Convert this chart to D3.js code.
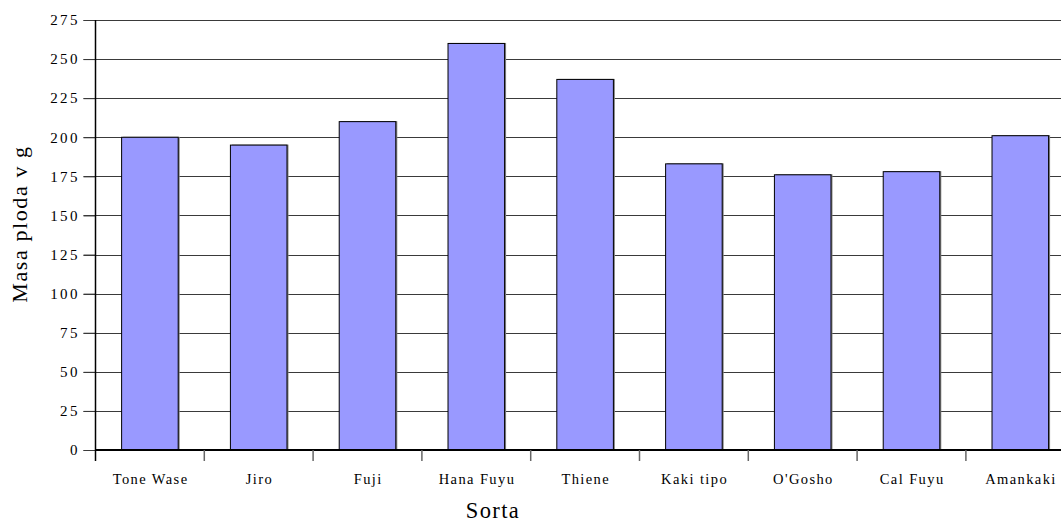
<!DOCTYPE html>
<html>
<head>
<meta charset="utf-8">
<script src="https://cdn.jsdelivr.net/npm/d3@7"></script>
<style>
  html, body { margin: 0; padding: 0; background: #fff; overflow: hidden; }
  svg { display: block; }
  text { font-family: "Liberation Serif", "Times New Roman", serif; fill: #000; }
</style>
</head>
<body>
<svg id="chart" width="1061" height="523"></svg>
<script>
// Fruit mass per persimmon variety
const categories = ["Tone Wase", "Jiro", "Fuji", "Hana Fuyu", "Thiene", "Kaki tipo", "O'Gosho", "Cal Fuyu", "Amankaki"];
const masses = [200, 195, 210, 260, 237, 183, 176, 178, 201];
const yTicks = [0, 25, 50, 75, 100, 125, 150, 175, 200, 225, 250, 275];
const xTitle = "Sorta";
const yTitle = "Masa ploda v g";

const svg = d3.select("#chart");
const plot = { left: 95.5, top: 20, bottom: 450, right: 95.5 + 9 * 108.8 };

const x = d3.scaleBand()
  .domain(categories)
  .range([plot.left, plot.right])
  .paddingInner(0.48)
  .paddingOuter(0.24);

const y = d3.scaleLinear()
  .domain([0, 275])
  .range([plot.bottom, plot.top]);

// horizontal gridlines
svg.append("g")
  .selectAll("line")
  .data(yTicks)
  .join("line")
  .attr("x1", plot.left - 12)
  .attr("x2", 1061)
  .attr("y1", d => Math.round(y(d)) + 0.5)
  .attr("y2", d => Math.round(y(d)) + 0.5)
  .attr("stroke", "#3a3a3a")
  .attr("stroke-width", 1.1);

// bars with a thin grey shadow on the right
const bars = svg.append("g");
bars.selectAll("rect.shadow")
  .data(categories)
  .join("rect")
  .attr("class", "shadow")
  .attr("x", d => x(d) + 1.5)
  .attr("y", (d, i) => y(masses[i]) - 0.5)
  .attr("width", x.bandwidth())
  .attr("height", (d, i) => plot.bottom - y(masses[i]) + 0.5)
  .attr("fill", "#808080");
bars.selectAll("rect.bar")
  .data(categories)
  .join("rect")
  .attr("class", "bar")
  .attr("x", d => x(d))
  .attr("y", (d, i) => y(masses[i]))
  .attr("width", x.bandwidth())
  .attr("height", (d, i) => plot.bottom - y(masses[i]))
  .attr("fill", "#9999ff")
  .attr("stroke", "#000")
  .attr("stroke-width", 1);

// y axis
const yAxis = svg.append("g")
  .attr("transform", `translate(${plot.left},0)`)
  .call(d3.axisLeft(y).tickValues(yTicks).tickSize(12).tickPadding(6));
yAxis.select(".domain").remove();
yAxis.selectAll(".tick line").attr("stroke", "#3a3a3a");
yAxis.selectAll(".tick text")
  .attr("font-size", 15)
  .attr("letter-spacing", "2.4px")
  .attr("dx", "2.4px")
  .style("font-family", "'Liberation Serif', serif");

svg.append("line")
  .attr("x1", plot.left).attr("x2", plot.left)
  .attr("y1", plot.top).attr("y2", plot.bottom + 11)
  .attr("stroke", "#000").attr("stroke-width", 1.5);

// x axis baseline and category separators
svg.append("line")
  .attr("x1", plot.left).attr("x2", 1061)
  .attr("y1", plot.bottom).attr("y2", plot.bottom)
  .attr("stroke", "#000").attr("stroke-width", 2);

const step = x.step();
svg.append("g")
  .selectAll("line")
  .data(categories.slice(1))
  .join("line")
  .attr("x1", d => x(d) - step * x.paddingInner() / 2)
  .attr("x2", d => x(d) - step * x.paddingInner() / 2)
  .attr("y1", plot.bottom)
  .attr("y2", plot.bottom + 11)
  .attr("stroke", "#666")
  .attr("stroke-width", 1.5);

svg.append("g")
  .selectAll("text")
  .data(categories)
  .join("text")
  .attr("x", d => x(d) + x.bandwidth() / 2 + 0.7)
  .attr("y", 484)
  .attr("text-anchor", "middle")
  .attr("font-size", 14.5)
  .attr("letter-spacing", "1.4px")
  .text(d => d);

// axis titles
svg.append("text")
  .attr("x", 493)
  .attr("y", 517.5)
  .attr("text-anchor", "middle")
  .attr("font-size", 22.5)
  .attr("letter-spacing", "1.4px")
  .text(xTitle);

svg.append("text")
  .attr("transform", "translate(27,224) rotate(-90)")
  .attr("text-anchor", "middle")
  .attr("font-size", 22)
  .attr("letter-spacing", "1.6px")
  .text(yTitle);
</script>
</body>
</html>
